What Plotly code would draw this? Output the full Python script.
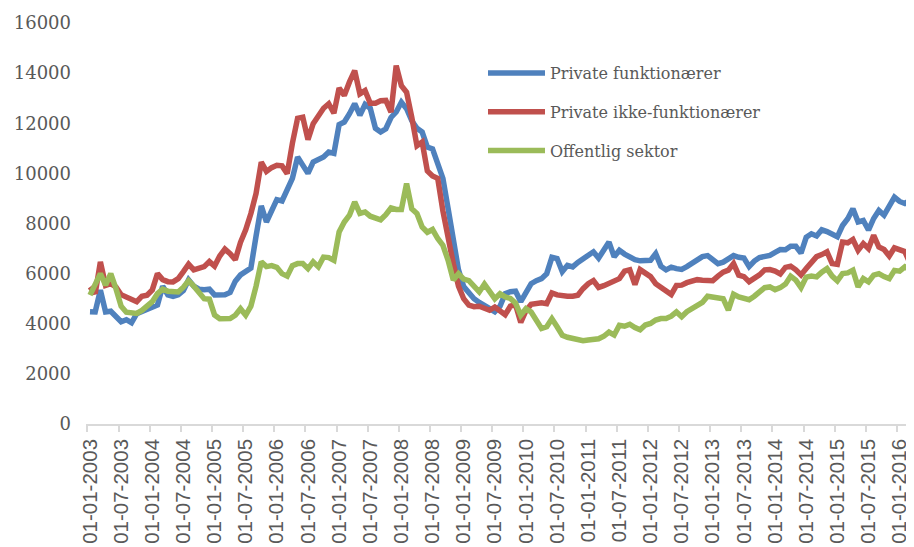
import plotly.graph_objects as go

tick_labels = [
    "01-01-2003", "01-07-2003", "01-01-2004", "01-07-2004", "01-01-2005", "01-07-2005",
    "01-01-2006", "01-07-2006", "01-01-2007", "01-07-2007", "01-01-2008", "01-07-2008",
    "01-01-2009", "01-07-2009", "01-01-2010", "01-07-2010", "01-01-2011", "01-07-2011",
    "01-01-2012", "01-07-2012", "01-01-2013", "01-07-2013", "01-01-2014", "01-07-2014",
    "01-01-2015", "01-07-2015", "01-01-2016",
]

series_names = ["Private funktionærer", "Private ikke-funktionærer", "Offentlig sektor"]

private_funktionaerer = [
    4480, 4470, 5340, 4470, 4500, 4280, 4080, 4160, 4040, 4400, 4500, 4570, 4680, 4750, 5500,
    5150, 5090, 5160, 5330, 5750, 5500, 5380, 5360, 5380, 5150, 5180, 5160, 5250, 5700, 5950,
    6070, 6220, 7500, 8700, 8060, 8450, 8950, 8900, 9350, 9800, 10650, 10320, 10000, 10450, 10580,
    10650, 10850, 10800, 11950, 12050, 12380, 12780, 12320, 12750, 12600, 11800, 11650, 11780, 12230, 12450,
    12840, 12580, 12100, 11800, 11650, 11050, 10980, 10400, 9800, 8600, 7250, 6150, 5480, 5200, 5000,
    4850, 4740, 4580, 4480, 4700, 5200, 5280, 5300, 4880, 5250, 5600, 5720, 5800, 6000, 6650,
    6600, 6080, 6330, 6270, 6450, 6600, 6730, 6870, 6620, 6930, 7260, 6670, 6930, 6780, 6650,
    6560, 6510, 6510, 6530, 6800, 6300, 6150, 6260, 6200, 6170, 6280, 6430, 6560, 6680, 6720,
    6560, 6400, 6460, 6600, 6720, 6650, 6620, 6280, 6500, 6640, 6700, 6730, 6850, 6960, 6950,
    7090, 7090, 6820, 7450, 7590, 7500, 7750, 7680, 7600, 7470, 7920, 8190, 8590, 8060, 8120,
    7740, 8200, 8520, 8330, 8650, 9050, 8880, 8800, 8920,
]

private_ikke_funktionaerer = [
    5470, 5200, 6470, 5530, 5600, 5470, 5160, 5050, 4960, 4880, 5100, 5140, 5350, 6000, 5760,
    5680, 5670, 5800, 6080, 6380, 6150, 6200, 6280, 6480, 6300, 6700, 6980, 6800, 6560, 7250,
    7750, 8400, 9200, 10450, 10080, 10230, 10320, 10300, 9990, 11200, 12200, 12240, 11350, 11980, 12310,
    12600, 12780, 12400, 13400, 13110, 13650, 14100, 13170, 13300, 12800, 12800, 12900, 12910, 12440, 14300,
    13500, 13240, 12240, 11100, 11250, 10100, 9900, 9800, 8500, 7330, 6400, 5500, 5000, 4740, 4680,
    4700, 4600, 4540, 4670, 4480, 4360, 4700, 4760, 4050, 4520, 4780, 4830, 4840, 4800, 5230,
    5150, 5110, 5100, 5100, 5140, 5400, 5600, 5720, 5450, 5520, 5620, 5700, 5800, 6100, 6150,
    5560, 6160, 6020, 5880, 5600, 5460, 5360, 5170, 5530, 5540, 5640, 5720, 5760, 5740, 5740,
    5720, 5900, 6060, 6140, 6400, 5940, 5880, 5680, 5800, 5950, 6150, 6160, 6100, 5990, 6250,
    6300, 6150, 5950, 6200, 6470, 6680, 6760, 6870, 6400, 6370, 7260, 7230, 7360, 6930, 7200,
    7000, 7530, 7060, 6960, 6700, 7030, 6960, 6880, 6420,
]

offentlig_sektor = [
    5140, 5540, 6000, 5540, 6000, 5400, 4700, 4460, 4410, 4410, 4530, 4700, 4880, 5200, 5380,
    5300, 5270, 5270, 5460, 5720, 5500, 5280, 5000, 4980, 4350, 4200, 4180, 4210, 4340, 4600,
    4340, 4700, 5500, 6470, 6280, 6320, 6250, 6000, 5900, 6320, 6400, 6400, 6200, 6470, 6270,
    6660, 6640, 6530, 7660, 8060, 8330, 8860, 8400, 8460, 8290, 8190, 8150, 8350, 8620, 8560,
    8560, 9590, 8590, 8400, 7860, 7650, 7760, 7400, 7130, 6530, 5740, 6000, 5780, 5720, 5500,
    5270, 5580, 5270, 5000, 5200, 5070, 5010, 4820, 4340, 4600, 4470, 4140, 3810, 3880, 4200,
    3880, 3540, 3460, 3400, 3350, 3320, 3350, 3380, 3400, 3500, 3670, 3550, 3940, 3900, 3980,
    3850, 3760, 3950, 4010, 4150, 4210, 4210, 4300, 4470, 4280, 4480, 4620, 4750, 4850, 5100,
    5070, 5010, 5000, 4540, 5180, 5070, 5040, 4960, 5100, 5300, 5440, 5470, 5360, 5440, 5580,
    5900, 5740, 5440, 5860, 5900, 5870, 6060, 6200, 5900, 5710, 6000, 6030, 6140, 5470, 5800,
    5670, 5940, 6000, 5880, 5800, 6130, 6100, 6270, 6140,
]

colors = ["#4F81BD", "#C0504D", "#9BBB59"]
all_series = [private_funktionaerer, private_ikke_funktionaerer, offentlig_sektor]

n = len(private_funktionaerer)
x_idx = list(range(n))
tick_positions = list(range(0, 6 * len(tick_labels), 6))

# page body has an 8px margin, so the figure is drawn 8px in from the top-left
W, H = 906, 539
L, T = 78, 15
PW, PH = W - L, 401

fig = go.Figure()
for name, vals, col in zip(series_names, all_series, colors):
    fig.add_trace(go.Scatter(
        x=x_idx, y=vals, mode="lines", name=name, legendgroup=name,
        line=dict(color=col, width=5.5),
    ))

fig.update_layout(
    width=W, height=H,
    margin=dict(l=L, r=0, t=T, b=H - T - PH, autoexpand=False),
    paper_bgcolor="white", plot_bgcolor="white",
    showlegend=True,
    legend=dict(
        x=(475 - L) / PW, y=1 - (48 - T) / PH, xanchor="left", yanchor="top",
        font=dict(family="DejaVu Serif", size=16, color="#595959"),
        itemwidth=57, tracegroupgap=15, bgcolor="rgba(0,0,0,0)",
    ),
)

fig.update_xaxes(
    range=[-0.77, 158.77], automargin=False,
    tickmode="array", tickvals=tick_positions, ticktext=tick_labels,
    tickangle=-90, ticks="", showgrid=False, zeroline=False,
    showline=True, linecolor="#D9D9D9", linewidth=1.5,
    tickfont=dict(family="Liberation Sans", size=20.5, color="#595959"),
    ticklabelstandoff=5,
    minor=dict(ticks="outside", tick0=-0.5, dtick=6, ticklen=6, tickcolor="#D9D9D9", tickwidth=1.5, showgrid=False),
)

fig.update_yaxes(
    range=[0, 16000], tickmode="linear", tick0=0, dtick=2000, tickformat="d",
    automargin=False,
    showgrid=False, zeroline=False, showline=False, ticks="",
    tickfont=dict(family="DejaVu Serif", size=18, color="#595959"),
    ticklabelstandoff=14,
)

fig.write_html("out.html")
